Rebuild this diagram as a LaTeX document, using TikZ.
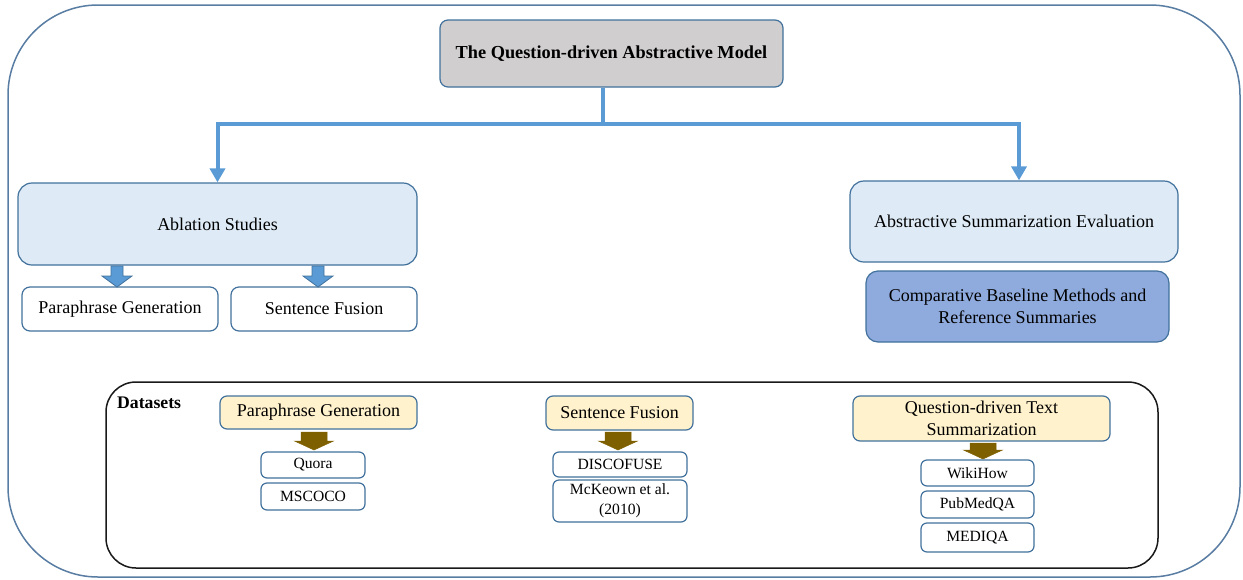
\documentclass[tikz,border=0pt]{standalone}
\usepackage{fontspec}
\setmainfont{Liberation Serif}
\usetikzlibrary{arrows.meta}
\definecolor{framec}{RGB}{88,124,162}
\definecolor{edgec}{RGB}{65,113,156}
\definecolor{connc}{RGB}{91,155,213}
\definecolor{greyfill}{RGB}{208,206,206}
\definecolor{lightblue}{RGB}{222,235,247}
\definecolor{midblue}{RGB}{143,170,220}
\definecolor{paleyellow}{RGB}{255,242,204}
\definecolor{darkbrown}{RGB}{127,96,0}
% block arrow pointing down: x, top y, head y, tip y, shaft half width, head half width
\newcommand\downblock[7]{%
  \path[#7] (#1-#5,#2) -- (#1+#5,#2) -- (#1+#5,#3) -- (#1+#6,#3) -- (#1,#4)
    -- (#1-#6,#3) -- (#1-#5,#3) -- cycle;}
\tikzset{
  box/.style={draw=edgec, line width=1.2pt, rounded corners=8pt, inner sep=0pt,
    align=center, font=\fontsize{18}{22}\selectfont},
  bluebox/.style={box, fill=lightblue, rounded corners=14pt},
  whitebox/.style={box, fill=white},
  yellowbox/.style={box, fill=paleyellow, rounded corners=7pt},
  databox/.style={box, fill=white, rounded corners=6pt,
    font=\fontsize{15.6}{20}\selectfont},
  conn/.style={draw=connc, line width=4pt,
    -{Triangle[width=15pt,length=14pt]}},
  bluearrow/.style={fill=connc, draw=edgec, line width=0.8pt},
  brownarrow/.style={fill=darkbrown, draw=darkbrown, line width=0.5pt},
}
\begin{document}
\begin{tikzpicture}[x=1pt, y=-1pt]
\useasboundingbox (0,0) rectangle (1243,579);

% outer frame
\draw[framec, line width=1.5pt, rounded corners=90pt] (8,5) rectangle (1240,577);

% top level
\node[box, fill=greyfill, minimum width=343pt, minimum height=67pt,
  font=\fontsize{18.3}{22}\selectfont\bfseries] (top) at (611.5,53.5)
  {The Question-driven Abstractive Model};

% second level
\node[bluebox, minimum width=399pt, minimum height=82pt] (abl) at (217.5,224)
  {Ablation Studies};
\node[bluebox, minimum width=328pt, minimum height=81pt] (ase) at (1014,221.5)
  {Abstractive Summarization Evaluation};
\node[box, fill=midblue, rounded corners=12pt, minimum width=303pt, minimum height=71pt]
  (comp) at (1017.5,306.5) {Comparative Baseline Methods and\\Reference Summaries};

\node[whitebox, minimum width=196pt, minimum height=44pt] (pg) at (120,309)
  {Paraphrase Generation};
\node[whitebox, minimum width=186pt, minimum height=44pt] (sf) at (324,309)
  {Sentence Fusion};

% connectors from the top box
\coordinate (stem) at ([xshift=-8.5pt]top.south);
\draw[conn] (stem) -- ++(0,36) -| (abl.north);
\draw[conn] (stem) -- ++(0,36) -| ([xshift=5pt]ase.north);

% block arrows under the ablation box
\downblock{117}{266}{276}{287}{6}{15}{bluearrow}
\downblock{318}{266}{276}{287}{6}{15}{bluearrow}

% datasets panel
\node[draw=black!90, line width=1.5pt, rounded corners=30pt, minimum width=1052pt,
  minimum height=186pt, inner sep=0pt] (datasets) at (632,475) {};
\node[anchor=north west, inner sep=0pt, font=\fontsize{17.7}{20}\selectfont\bfseries]
  (dlabel) at (117,397) {Datasets};

\node[yellowbox, minimum width=197pt, minimum height=33pt] (dpg) at (318.5,412.5)
  {Paraphrase Generation};
\node[yellowbox, minimum width=147pt, minimum height=34pt] (dsf) at (619.5,413)
  {Sentence Fusion};
\node[yellowbox, minimum width=257pt, minimum height=45pt] (qts) at (981.5,418.5)
  {Question-driven Text\\Summarization};

\downblock{314}{432}{441}{450}{13}{19.5}{brownarrow}
\downblock{618}{432}{441}{450}{13}{19.5}{brownarrow}
\downblock{983}{443}{450}{459}{13}{19.5}{brownarrow}

\node[databox, minimum width=104pt, minimum height=26pt] (quora) at (313,465) {Quora};
\node[databox, minimum width=104pt, minimum height=27pt] (mscoco) at (313,496.5) {MSCOCO};

\node[databox, minimum width=134pt, minimum height=25pt] (disco) at (620,464.5) {DISCOFUSE};
\node[databox, minimum width=134pt, minimum height=42pt] (mck) at (620,501)
  {McKeown et al.\\(2010)};

\node[databox, minimum width=113pt, minimum height=26pt] (wiki) at (977.5,473) {WikiHow};
\node[databox, minimum width=113pt, minimum height=27pt] (pubmed) at (977.5,504.5) {PubMedQA};
\node[databox, minimum width=113pt, minimum height=29pt] (mediqa) at (977.5,537.5) {MEDIQA};
\end{tikzpicture}
\end{document}
